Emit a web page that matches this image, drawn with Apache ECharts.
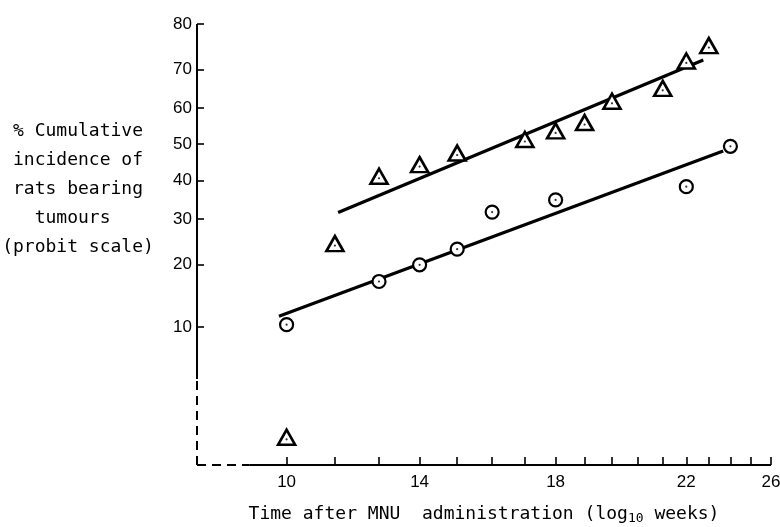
<!DOCTYPE html>
<html>
<head>
<meta charset="utf-8">
<script src="https://cdn.jsdelivr.net/npm/echarts@6/dist/echarts.min.js"></script>
<style>html,body{margin:0;padding:0;background:#fff;}#chart{width:780px;height:527px;}</style>
</head>
<body>
<div id="chart"></div>
<script>
// ---- data ----
// Triangles (weeks, % cumulative incidence)
const triWeeks = [10, 11, 12, 13, 14, 16, 17, 18, 19, 21, 22, 23];
const triPct   = [2.0, 24.3, 41.1, 44.3, 47.5, 51.3, 53.7, 56.0, 61.8, 65.2, 72.0, 75.5];
// Circles
const circWeeks = [10, 12, 13, 14, 15, 17, 22, 24];
const circPct   = [10.3, 16.8, 19.9, 23.1, 31.7, 34.8, 38.3, 49.4];
// Fitted lines (end points)
const triFitWeeks  = [11.07, 22.75];
const triFitPct    = [31.6, 72.2];
const circFitWeeks = [9.85, 23.66];
const circFitPct   = [11.4, 48.1];
// Axis ticks / labels
const yTickPct = [10, 20, 30, 40, 50, 60, 70, 80];
const xTickWeeks = [10, 11, 12, 13, 14, 15, 16, 17, 18, 19, 20, 21, 22, 23, 24, 25, 26];
const xLabelText = ['10', '14', '18', '22', '26'];
const xLabelWeeks = [10, 13, 17, 22, 26]; // where the labels sit in the reference
// Axis extents
const xMinWeeks = 8.38, xMaxWeeks = 26, xBreakWeeks = 9.3;
const yMinPct = 1.23, yMaxPct = 80, yBreakPct = 5;

// ---- scale transforms: log10 for x, probit for y ----
function probit(p) {
  const a=[-3.969683028665376e+01,2.209460984245205e+02,-2.759285104469687e+02,1.383577518672690e+02,-3.066479806614716e+01,2.506628277459239e+00];
  const b=[-5.447609879822406e+01,1.615858368580409e+02,-1.556989798598866e+02,6.680131188771972e+01,-1.328068155288572e+01];
  const c=[-7.784894002430293e-03,-3.223964580411365e-01,-2.400758297328447e+00,-2.549732539343734e+00,4.374664141464968e+00,2.938163982698783e+00];
  const d=[7.784695709041462e-03,3.224671290700398e-01,2.445134137142996e+00,3.754408661907416e+00];
  const pl=0.02425, ph=1-pl; let q, r;
  if (p < pl) { q=Math.sqrt(-2*Math.log(p)); return (((((c[0]*q+c[1])*q+c[2])*q+c[3])*q+c[4])*q+c[5])/((((d[0]*q+d[1])*q+d[2])*q+d[3])*q+1); }
  if (p <= ph) { q=p-0.5; r=q*q; return (((((a[0]*r+a[1])*r+a[2])*r+a[3])*r+a[4])*r+a[5])*q/(((((b[0]*r+b[1])*r+b[2])*r+b[3])*r+b[4])*r+1); }
  q=Math.sqrt(-2*Math.log(1-p)); return -(((((c[0]*q+c[1])*q+c[2])*q+c[3])*q+c[4])*q+c[5])/((((d[0]*q+d[1])*q+d[2])*q+d[3])*q+1);
}
const X = w => Math.log10(w);
const Y = pct => probit(pct / 100);
const pts = (ws, ps) => ws.map((w, i) => [X(w), Y(ps[i])]);

const xMin = X(xMinWeeks), xMax = X(xMaxWeeks), xBreak = X(xBreakWeeks);
const yMin = Y(yMinPct), yMax = Y(yMaxPct), yBreak = Y(yBreakPct);

function nearestIdx(arr, v) {
  let bi = 0, bd = Infinity;
  arr.forEach((a, i) => { const dd = Math.abs(a - v); if (dd < bd) { bd = dd; bi = i; } });
  return bi;
}
const xLabelVals = xLabelWeeks.map(X);
const yTickVals = yTickPct.map(Y);

const MONO = '"DejaVu Sans Mono", "Liberation Mono", monospace';
const SANS = '"Liberation Sans", Arial, sans-serif';
const axisSolid = { color: '#000', width: 2, type: 'solid' };
const axisDash = { color: '#000', width: 2, type: [9, 6] };

const chart = echarts.init(document.getElementById('chart'), null, { renderer: 'canvas' });
chart.setOption({
  animation: false,
  backgroundColor: '#fff',
  grid: { left: 197, right: 9, top: 24, bottom: 62, containLabel: false, outerBoundsMode: 'none' },
  xAxis: {
    type: 'value', min: xMin, max: xMax,
    axisLine: { show: false, onZero: false },
    splitLine: { show: false },
    axisTick: { show: true, inside: true, length: 8, customValues: xTickWeeks.map(X), lineStyle: { color: '#000', width: 1.6 } },
    axisLabel: {
      show: true, margin: 9, customValues: xLabelVals,
      color: '#000', fontFamily: SANS, fontSize: 17,
      formatter: v => xLabelText[nearestIdx(xLabelVals, v)]
    },
    name: 'Time after MNU  administration (log{sub|10} weeks)',
    nameLocation: 'middle', nameGap: 38,
    nameTextStyle: {
      color: '#000', fontFamily: MONO, fontSize: 18,
      rich: { sub: { fontFamily: MONO, fontSize: 13, color: '#000', padding: [9, 0, 0, 0] } }
    }
  },
  yAxis: {
    type: 'value', min: yMin, max: yMax,
    axisLine: { show: false, onZero: false },
    splitLine: { show: false },
    axisTick: { show: true, inside: true, length: 7, customValues: yTickVals, lineStyle: { color: '#000', width: 1.6 } },
    axisLabel: {
      show: true, margin: 5, customValues: yTickVals,
      color: '#000', fontFamily: SANS, fontSize: 17,
      formatter: v => String(yTickPct[nearestIdx(yTickVals, v)])
    }
  },
  graphic: [{
    type: 'text',
    x: 78, y: 189,
    style: {
      text: '% Cumulative\nincidence of\nrats bearing\ntumours \n(probit scale)',
      align: 'center', verticalAlign: 'middle',
      fontFamily: MONO, fontSize: 18, lineHeight: 29, fill: '#000'
    }
  }],
  series: [
    {
      name: 'triangle fit', type: 'line', data: pts(triFitWeeks, triFitPct),
      symbol: 'none', lineStyle: { color: '#000', width: 3.2 }, z: 2, silent: true
    },
    {
      name: 'circle fit', type: 'line', data: pts(circFitWeeks, circFitPct),
      symbol: 'none', lineStyle: { color: '#000', width: 3.2 }, z: 2, silent: true,
      markLine: {
        silent: true, symbol: ['none', 'none'], label: { show: false }, animation: false,
        data: [
          [{ coord: [xMin, yBreak], lineStyle: axisSolid }, { coord: [xMin, yMax] }],
          [{ coord: [xMin, yMin], lineStyle: axisDash }, { coord: [xMin, yBreak] }],
          [{ coord: [xBreak, yMin], lineStyle: axisSolid }, { coord: [xMax, yMin] }],
          [{ coord: [xMin, yMin], lineStyle: axisDash }, { coord: [xBreak, yMin] }]
        ]
      }
    },
    {
      name: 'triangles', type: 'scatter', data: pts(triWeeks, triPct),
      symbol: 'triangle', symbolSize: [17, 15],
      itemStyle: { color: '#fff', borderColor: '#000', borderWidth: 2.6, opacity: 1 }, z: 3
    },
    {
      name: 'circles', type: 'scatter', data: pts(circWeeks, circPct),
      symbol: 'circle', symbolSize: 13,
      itemStyle: { color: '#fff', borderColor: '#000', borderWidth: 2.2, opacity: 1 }, z: 3
    },
    {
      name: 'triangle dots', type: 'scatter', data: pts(triWeeks, triPct),
      symbol: 'circle', symbolSize: 2.2, symbolOffset: [0, 2],
      itemStyle: { color: '#000' }, z: 4, silent: true
    },
    {
      name: 'circle dots', type: 'scatter', data: pts(circWeeks, circPct),
      symbol: 'circle', symbolSize: 2.2,
      itemStyle: { color: '#000' }, z: 4, silent: true
    }
  ]
});
</script>
</body>
</html>
